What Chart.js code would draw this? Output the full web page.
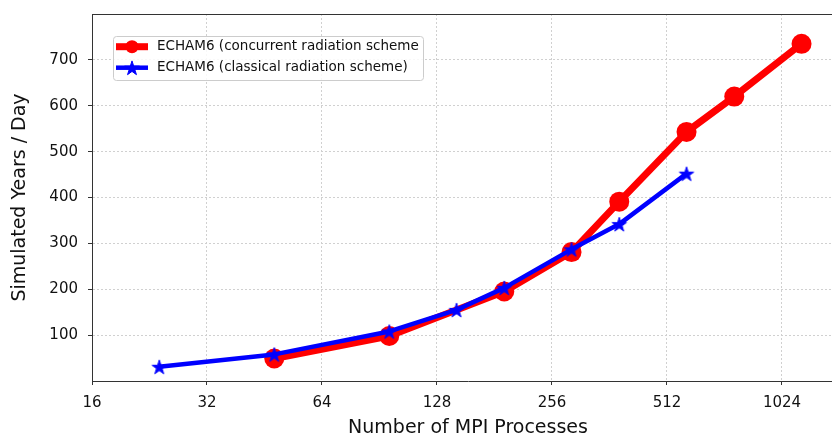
<!DOCTYPE html>
<html>
<head>
<meta charset="utf-8">
<script src="https://cdn.jsdelivr.net/npm/chart.js@4.4.1/dist/chart.umd.min.js"></script>
<style>
	html, body { margin: 0; padding: 0; background: #fff; overflow: hidden; }
	#wrap { width: 832px; height: 437px; overflow: hidden; }
</style>
</head>
<body>
<!-- canvas is a bit wider than the page: the plot box is cut off on the right -->
<div id="wrap"><canvas id="scaling-chart" width="846" height="437"></canvas></div>
<script>
(function () {
	// throughput of the two radiation schemes vs. number of MPI processes
	const procsConcurrent = [48, 96, 192, 288, 384, 576, 768, 1152];
	const yearsConcurrent = [49, 98, 195, 281, 391, 543, 620, 735];
	const procsClassical = [24, 48, 96, 144, 192, 288, 384, 576];
	const yearsClassical = [31, 58, 108, 155, 203, 287, 342, 452];

	const procTicks = [16, 32, 64, 128, 256, 512, 1024];
	const yearTicks = [100, 200, 300, 400, 500, 600, 700];

	const labelConcurrent = 'ECHAM6 (concurrent radiation scheme';
	const labelClassical = 'ECHAM6 (classical radiation scheme)';

	const FONT = 'DejaVu Sans';
	const RED = '#ff0000';
	const BLUE = '#0000ff';

	function starPath(ctx, cx, cy, r) {
		const inner = r * 0.381966;
		ctx.beginPath();
		for (let i = 0; i < 10; i++) {
			const rad = i % 2 === 0 ? r : inner;
			const a = -Math.PI / 2 + (i * Math.PI) / 5;
			const px = cx + rad * Math.cos(a);
			const py = cy + rad * Math.sin(a);
			if (i === 0) ctx.moveTo(px, py);
			else ctx.lineTo(px, py);
		}
		ctx.closePath();
	}

	function drawStar(ctx, cx, cy, r) {
		starPath(ctx, cx, cy, r);
		ctx.fillStyle = BLUE;
		ctx.fill();
		ctx.lineWidth = 1;
		ctx.strokeStyle = BLUE;
		ctx.stroke();
	}

	// filled five-point star used as point marker
	const $star = document.createElement('canvas');
	$star.width = 22;
	$star.height = 22;
	drawStar($star.getContext('2d'), 11, 11.8, 7.6);

	const frameTop = {
		id: 'frameTop',
		afterDraw(chart) {
			const { ctx, chartArea } = chart;
			ctx.save();
			ctx.strokeStyle = '#333';
			ctx.lineWidth = 1;
			ctx.beginPath();
			ctx.moveTo(chartArea.left, chartArea.top + 0.5);
			ctx.lineTo(chartArea.right, chartArea.top + 0.5);
			ctx.stroke();
			ctx.restore();
		},
	};

	const insideLegend = {
		id: 'insideLegend',
		afterDraw(chart) {
			const { ctx, chartArea } = chart;
			const x = chartArea.left + 21;
			const y = chartArea.top + 22;
			const w = 310;
			const h = 44;

			ctx.save();
			ctx.beginPath();
			ctx.roundRect(x + 0.5, y + 0.5, w, h, 3);
			ctx.fillStyle = 'rgba(255,255,255,0.85)';
			ctx.fill();
			ctx.strokeStyle = '#cccccc';
			ctx.lineWidth = 1;
			ctx.stroke();

			const rows = [
				{ label: labelConcurrent, cy: y + 10.7 },
				{ label: labelClassical, cy: y + 31.7 },
			];

			// red sample
			ctx.strokeStyle = RED;
			ctx.lineWidth = 7;
			ctx.beginPath();
			ctx.moveTo(x + 3, rows[0].cy);
			ctx.lineTo(x + 35, rows[0].cy);
			ctx.stroke();
			ctx.fillStyle = RED;
			ctx.beginPath();
			ctx.arc(x + 19, rows[0].cy, 6.5, 0, Math.PI * 2);
			ctx.fill();

			// blue sample
			ctx.strokeStyle = BLUE;
			ctx.lineWidth = 4.5;
			ctx.beginPath();
			ctx.moveTo(x + 3, rows[1].cy);
			ctx.lineTo(x + 35, rows[1].cy);
			ctx.stroke();
			drawStar(ctx, x + 19, rows[1].cy + 0.8, 7.6);

			ctx.fillStyle = '#111';
			ctx.font = '13.5px "' + FONT + '"';
			ctx.textBaseline = 'middle';
			ctx.textAlign = 'left';
			rows.forEach(({ label, cy }) => ctx.fillText(label, x + 44, cy));
			ctx.restore();
		},
	};

	const data = {
		datasets: [
			{
				label: labelConcurrent,
				data: procsConcurrent.map((x, i) => ({ x, y: yearsConcurrent[i] })),
				borderColor: RED,
				backgroundColor: RED,
				borderWidth: 7,
				borderJoinStyle: 'round',
				pointStyle: 'circle',
				pointRadius: 10,
				pointBorderWidth: 0,
				pointBackgroundColor: RED,
				tension: 0,
				order: 1,
			},
			{
				label: labelClassical,
				data: procsClassical.map((x, i) => ({ x, y: yearsClassical[i] })),
				borderColor: BLUE,
				backgroundColor: BLUE,
				borderWidth: 4.5,
				borderJoinStyle: 'round',
				pointStyle: $star,
				pointRadius: 8,
				tension: 0,
				order: 0,
			},
		],
	};

	const tickFont = { family: FONT, size: 15 };

	const config = {
		type: 'line',
		data: data,
		options: {
			responsive: false,
			animation: false,
			events: [],
			layout: { autoPadding: false, padding: { top: 14, right: 2, bottom: 0, left: 0 } },
			scales: {
				x: {
					type: 'logarithmic',
					min: 16,
					max: 1488,
					afterBuildTicks: (scale) => {
						scale.ticks = procTicks.map((v) => ({ value: v }));
					},
					afterFit: (scale) => {
						scale.height = 56;
						scale.paddingLeft = 0;
						scale.paddingRight = 0;
					},
					ticks: {
						callback: (v) => String(v),
						font: tickFont,
						color: '#111',
						padding: 9,
						maxRotation: 0,
						autoSkip: false,
					},
					grid: { color: '#d0d0d0', lineWidth: 1, tickLength: 4, tickColor: '#333', tickWidth: 1 },
					border: { color: '#333', width: 1, dash: [2, 2] },
					title: {
						display: true,
						text: 'Number of MPI Processes',
						font: { family: FONT, size: 19, lineHeight: 0.9 },
						color: '#111',
						padding: 0,
					},
				},
				y: {
					type: 'linear',
					min: 0,
					max: 800,
					afterBuildTicks: (scale) => {
						scale.ticks = yearTicks.map((v) => ({ value: v }));
					},
					afterFit: (scale) => {
						scale.width = 92;
						scale.paddingTop = 0;
						scale.paddingBottom = 0;
					},
					ticks: { font: tickFont, color: '#111', padding: 10 },
					grid: { color: '#d0d0d0', lineWidth: 1, tickLength: 4, tickColor: '#333', tickWidth: 1 },
					border: { color: '#333', width: 1, dash: [2, 2] },
					title: {
						display: true,
						text: 'Simulated Years / Day',
						font: { family: FONT, size: 19, lineHeight: 1.2 },
						color: '#111',
						padding: { top: 9, bottom: 0 },
					},
				},
			},
			plugins: {
				legend: { display: false },
				tooltip: { enabled: false },
			},
		},
		plugins: [frameTop, insideLegend],
	};

	new Chart(document.getElementById('scaling-chart'), config);
})();
</script>
</body>
</html>
